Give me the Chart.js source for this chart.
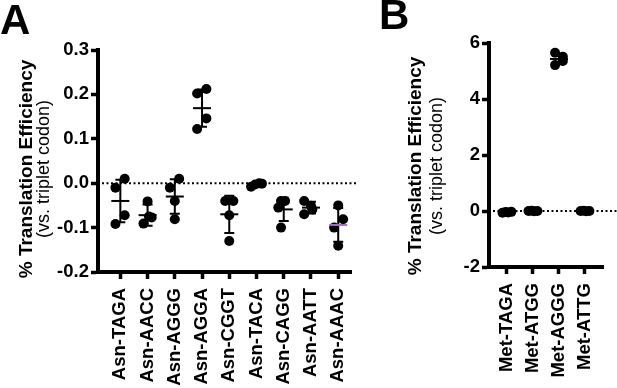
<!DOCTYPE html>
<html>
<head>
<meta charset="utf-8">
<script src="https://cdn.jsdelivr.net/npm/chart.js@4/dist/chart.umd.min.js"></script>
<style>
	html, body { margin: 0; padding: 0; background: #fff; }
	#wrap { position: relative; width: 617px; height: 388px; overflow: hidden; }
	canvas { position: absolute; top: 0; }
	#chartA { left: 0; }
	#chartB { left: 370px; }
</style>
</head>
<body>
<div id="wrap">
	<canvas id="chartA" width="370" height="388"></canvas>
	<canvas id="chartB" width="247" height="388"></canvas>
</div>
<script>
// Panel A: Asn quadruplet codons
var asnLabels = ["Asn-TAGA", "Asn-AACC", "Asn-AGGG", "Asn-AGGA", "Asn-CGGT", "Asn-TACA", "Asn-CAGG", "Asn-AATT", "Asn-AAAC"];
var asnValues = [
	[-0.010, 0.010, -0.072, -0.092],
	[-0.041, -0.091, -0.077, -0.075],
	[-0.010, 0.010, -0.040, -0.081],
	[0.202, 0.212, 0.146, 0.122],
	[-0.040, -0.040, -0.072, -0.130],
	[-0.008, -0.003, 0.000, -0.001],
	[-0.040, -0.040, -0.100, -0.055],
	[-0.040, -0.051, -0.070, -0.059],
	[-0.050, -0.081, -0.100, -0.141]
];
var asnMeans = [-0.040, -0.072, -0.030, 0.169, -0.070, -0.003, -0.059, -0.055, -0.094];
var asnSD = [0.048, 0.024, 0.039, 0.042, 0.042, 0.004, 0.026, 0.013, 0.038];
var asnTicks = [-0.2, -0.1, 0.0, 0.1, 0.2, 0.3];

// Panel B: Met quadruplet codons
var metLabels = ["Met-TAGA", "Met-ATGG", "Met-AGGG", "Met-ATTG"];
var metValues = [
	[-0.06, -0.04, -0.05, -0.03],
	[0.00, 0.01, -0.01, 0.00],
	[5.65, 5.51, 5.21, 5.36],
	[0.00, 0.01, -0.01, 0.00]
];
var metMeans = [-0.045, 0.0, 5.43, 0.0];
var metSD = [0.013, 0.008, 0.19, 0.008];
var metTicks = [-2, 0, 2, 4, 6];

// horizontal scatter of the replicate dots, in category units
var jitterA = [
	[-0.18, 0.16, 0.16, -0.18],
	[0.0, -0.15, 0.15, 0.05],
	[-0.18, 0.16, 0.0, 0.0],
	[-0.18, 0.16, 0.16, -0.18],
	[-0.15, 0.15, 0.0, 0.0],
	[-0.2, -0.05, 0.1, 0.2],
	[-0.1, 0.05, -0.1, -0.2],
	[-0.25, 0.0, -0.25, 0.05],
	[0.0, 0.18, -0.15, 0.0]
];
var jitterB = [
	[-0.17, -0.05, 0.05, 0.17],
	[-0.17, -0.05, 0.05, 0.17],
	[-0.15, 0.15, -0.15, 0.15],
	[-0.17, -0.05, 0.05, 0.17]
];

var FONT = "'Liberation Sans', Arial, Helvetica, sans-serif";

function toPoints(values, jitter) {
	var pts = [];
	values.forEach(function (group, i) {
		group.forEach(function (v, j) {
			pts.push({ x: i + jitter[i][j], y: v });
		});
	});
	return pts;
}

// dotted zero line, mean +/- SD bars, axis titles and panel letter
var decorPlugin = {
	id: "decor",
	beforeDatasetsDraw: function (chart) {
		var ctx = chart.ctx, area = chart.chartArea;
		var y0 = chart.scales.y.getPixelForValue(0);
		ctx.save();
		ctx.strokeStyle = "#000";
		ctx.lineWidth = 2;
		ctx.setLineDash([2, 2.5]);
		ctx.beginPath();
		ctx.moveTo(area.left + 4, y0);
		ctx.lineTo(chart.options.plugins.decor.lineEnd, y0);
		ctx.stroke();
		ctx.restore();
	},
	afterDatasetsDraw: function (chart) {
		var o = chart.options.plugins.decor;
		var ctx = chart.ctx, xs = chart.scales.x, ys = chart.scales.y;
		ctx.save();
		ctx.lineWidth = 2;
		o.means.forEach(function (m, i) {
			var x = xs.getPixelForValue(i);
			var yTop = ys.getPixelForValue(m + o.sd[i]);
			var yBot = ys.getPixelForValue(m - o.sd[i]);
			var yM = ys.getPixelForValue(m);
			ctx.strokeStyle = "#000";
			ctx.beginPath();
			ctx.moveTo(x, yTop);
			ctx.lineTo(x, yBot);
			ctx.moveTo(x - 5, yTop);
			ctx.lineTo(x + 5, yTop);
			ctx.moveTo(x - 5, yBot);
			ctx.lineTo(x + 5, yBot);
			ctx.stroke();
			ctx.strokeStyle = (o.meanColors && o.meanColors[i]) || "#000";
			ctx.beginPath();
			ctx.moveTo(x - 9, yM);
			ctx.lineTo(x + 9, yM);
			ctx.stroke();
		});
		ctx.restore();
	},
	afterDraw: function (chart) {
		var o = chart.options.plugins.decor;
		var ctx = chart.ctx;
		ctx.save();
		ctx.fillStyle = "#000";
		ctx.textAlign = "center";
		ctx.textBaseline = "middle";
		ctx.save();
		ctx.translate(o.titleX, o.titleY);
		ctx.rotate(-Math.PI / 2);
		ctx.font = "bold 19px " + FONT;
		ctx.fillText("% Translation Efficiency", 0, 0);
		ctx.restore();
		ctx.save();
		ctx.translate(o.subX, o.titleY);
		ctx.rotate(-Math.PI / 2);
		ctx.font = "18px " + FONT;
		ctx.fillText("(vs. triplet codon)", 0, 0);
		ctx.restore();
		ctx.textAlign = "left";
		ctx.textBaseline = "alphabetic";
		ctx.font = "bold 42px " + FONT;
		ctx.fillText(o.letter, o.letterX, o.letterY);
		ctx.restore();
	},
};

function makePanel(canvasId, cfg) {
	return new Chart(document.getElementById(canvasId), {
		type: "scatter",
		data: {
			datasets: [
				{
					data: toPoints(cfg.values, cfg.jitter),
					backgroundColor: "#000",
					borderColor: "#000",
					pointRadius: 5,
					pointBorderWidth: 0,
				},
			],
		},
		options: {
			responsive: false,
			animation: false,
			events: [],
			layout: { padding: cfg.padding },
			plugins: {
				legend: { display: false },
				tooltip: { enabled: false },
				decor: cfg.decor,
			},
			scales: {
				x: {
					type: "linear",
					min: cfg.xMin,
					max: cfg.xMax,
					afterBuildTicks: function (scale) {
						scale.ticks = cfg.labels.map(function (l, i) {
							return { value: i };
						});
					},
					afterFit: function (scale) {
						scale.height = cfg.xHeight;
					},
					grid: {
						drawOnChartArea: false,
						drawTicks: true,
						tickLength: 7,
						tickWidth: 3.5,
						tickColor: "#000",
					},
					border: { display: true, color: "#000", width: 4 },
					ticks: {
						autoSkip: false,
						maxRotation: 90,
						minRotation: 90,
						padding: 9,
						color: "#000",
						font: { family: FONT, size: 18.5, weight: "bold" },
						callback: function (v) {
							return cfg.labels[v];
						},
					},
				},
				y: {
					min: cfg.yTicks[0],
					max: cfg.yTicks[cfg.yTicks.length - 1],
					afterBuildTicks: function (scale) {
						scale.ticks = cfg.yTicks.map(function (v) {
							return { value: v };
						});
					},
					afterFit: function (scale) {
						scale.width = cfg.yWidth;
					},
					grid: {
						drawOnChartArea: false,
						drawTicks: true,
						tickLength: 7,
						tickWidth: 3.5,
						tickColor: "#000",
					},
					border: { display: true, color: "#000", width: 4 },
					ticks: {
						padding: 2,
						color: "#000",
						font: { family: FONT, size: 18.5, weight: "bold" },
						callback: cfg.yFormat,
					},
				},
			},
		},
		plugins: [decorPlugin],
	});
}

makePanel("chartA", {
	labels: asnLabels,
	values: asnValues,
	jitter: jitterA,
	yTicks: asnTicks,
	xMin: -0.82,
	xMax: 8.5,
	yWidth: 98,
	xHeight: 116,
	padding: { left: 0, top: 50, right: 11, bottom: 0 },
	yFormat: function (v) {
		return v.toFixed(1);
	},
	decor: {
		means: asnMeans,
		sd: asnSD,
		meanColors: [null, null, null, null, null, null, null, null, "#a86cc1"],
		lineEnd: 356,
		titleX: 27,
		subX: 44,
		titleY: 169,
		letter: "A",
		letterX: 0,
		letterY: 34,
	},
});

makePanel("chartB", {
	labels: metLabels,
	values: metValues,
	jitter: jitterB,
	yTicks: metTicks,
	xMin: -0.69,
	xMax: 3.72,
	yWidth: 119,
	xHeight: 121,
	padding: { left: 0, top: 43, right: 0, bottom: 0 },
	yFormat: function (v) {
		return String(v);
	},
	decor: {
		means: metMeans,
		sd: metSD,
		lineEnd: 247,
		titleX: 46,
		subX: 67,
		titleY: 166,
		letter: "B",
		letterX: 9,
		letterY: 29,
	},
});
</script>
</body>
</html>
